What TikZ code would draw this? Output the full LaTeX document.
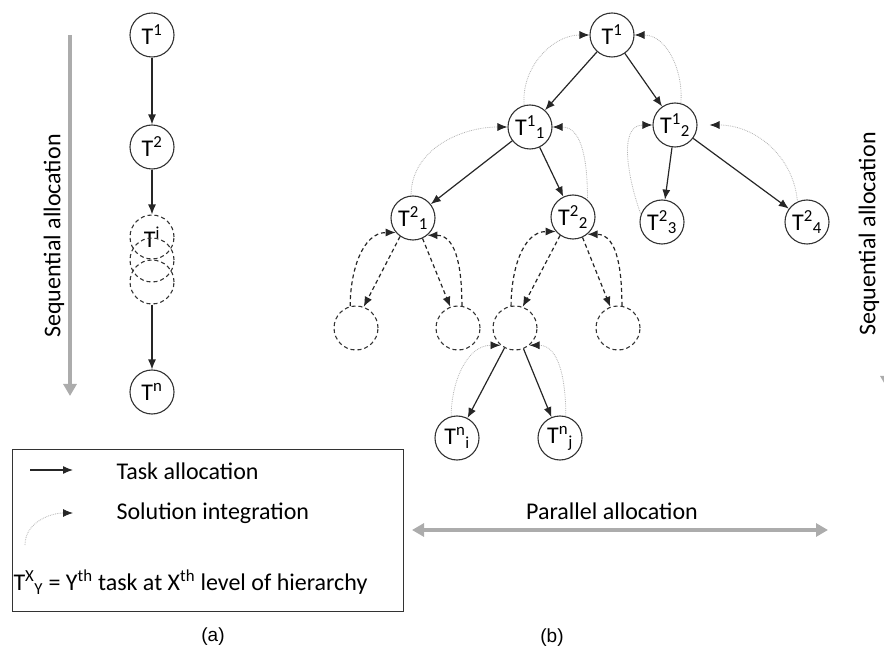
\documentclass[tikz,border=0pt]{standalone}
\usepackage{fontspec}
\setmainfont{Carlito}
\newfontfamily\capfont{Liberation Sans}
\usetikzlibrary{positioning, arrows.meta}

\begin{document}
\begin{tikzpicture}[x=1pt, y=-1pt,
	font=\fontsize{24}{28}\selectfont,
	task/.style={draw=black!80, circle, line width=1.1pt, minimum size=44pt, inner sep=0pt},
	ghost/.style={task, dash pattern=on 4pt off 3pt},
	alloc/.style={draw=black!85, line width=1.2pt, -{Latex[length=10pt,width=8pt]}},
	ghostalloc/.style={alloc, dash pattern=on 4pt off 3pt},
	integ/.style={draw=gray!60, line width=0.8pt, densely dotted, -{Latex[length=10pt,width=8pt,color=black!85]}},
	bigarrow/.style={draw=gray!65, line width=3.5pt, -{Triangle[length=12pt,width=13pt]}},
	]
	
	\useasboundingbox (0,0) rectangle (884,652);
	
	%Sequential chain
	\node (s1) at (152,35) [task] {T\textsuperscript{1}};
	\node (s2) at (152,147) [task] {T\textsuperscript{2}};
	\node (si) at (152,237) [ghost] {T\textsuperscript{i}};
	\node (si2) at (152,260) [ghost] {};
	\node (si3) at (152,282) [ghost] {};
	\node (sn) at (152,392) [task] {T\textsuperscript{n}};
	
	%Links
	\draw[alloc] (s1) -- (s2);
	\draw[alloc] (s2) -- (si);
	\draw[alloc] (si3) -- (sn);
	
	%Sequential arrow
	\node (seql) at (54,236) [rotate=90] {Sequential allocation};
	\coordinate (seqtop) at (70,35);
	\coordinate (seqbot) at (70,396);
	\draw[bigarrow] (seqtop) -- (seqbot);
	
	%Tree
	\node (t1) at (612,35) [task] {T\textsuperscript{1}};
	\node (t11) at (530,127) [task] {T\textsuperscript{1}\textsubscript{1}};
	\node (t12) at (675,125) [task] {T\textsuperscript{1}\textsubscript{2}};
	\node (t21) at (413,218) [task] {T\textsuperscript{2}\textsubscript{1}};
	\node (t22) at (573,217) [task] {T\textsuperscript{2}\textsubscript{2}};
	\node (t23) at (662,222) [task] {T\textsuperscript{2}\textsubscript{3}};
	\node (t24) at (807,222) [task] {T\textsuperscript{2}\textsubscript{4}};
	\node (g1) at (356,328) [ghost] {};
	\node (g2) at (458,328) [ghost] {};
	\node (gm) at (515,328) [ghost] {};
	\node (g4) at (618,328) [ghost] {};
	\node (tni) at (457,438) [task] {T\textsuperscript{n}\textsubscript{i}};
	\node (tnj) at (560,438) [task] {T\textsuperscript{n}\textsubscript{j}};
	
	%Links
	\draw[alloc] (t1) -- (t11);
	\draw[alloc] (t1) -- (t12);
	\draw[alloc] (t11) -- (t21);
	\draw[alloc] (t11) -- (t22);
	\draw[alloc] (t12) -- (t23);
	\draw[alloc] (t12) -- (t24);
	\draw[alloc] (gm) -- (tni);
	\draw[alloc] (gm) -- (tnj);
	
	\draw[ghostalloc] (t21.235) -- (g1.70);
	\draw[ghostalloc] (t21.295) -- (g2.110);
	\draw[ghostalloc] (t22.235) -- (gm.70);
	\draw[ghostalloc] (t22.295) -- (g4.110);
	
	%Integration
	\draw[integ] (t11.105) to[out=95, in=180] (t1.west);
	\draw[integ] (t12.75) to[out=85, in=0] (t1.east);
	\draw[integ] (t21.95) to[out=90, in=180] (t11.west);
	\draw[integ] (t22.50) to[out=90, in=0] (t11.east);
	\draw[integ] (t23.160) to[out=110, in=180] (t12.west);
	\draw[integ] (t24.115) to[out=95, in=0] ([xshift=12pt]t12.east);
	\draw[integ] (tni.105) to[out=90, in=180] (gm.230);
	\draw[integ] (tnj.75) to[out=90, in=0] (gm.310);
	
	\draw[ghostalloc] (g1.105) to[out=90, in=180] (t21.220);
	\draw[ghostalloc] (g2.80) to[out=90, in=0] (t21.310);
	\draw[ghostalloc] (gm.100) to[out=90, in=180] (t22.220);
	\draw[ghostalloc] (g4.80) to[out=90, in=0] (t22.310);
	
	%Parallel arrow
	\node (partext) at (612,511) {Parallel allocation};
	\coordinate (parl) at (412,530);
	\coordinate (parr) at (828,530);
	\draw[bigarrow, {Triangle[length=12pt,width=13pt]}-{Triangle[length=12pt,width=13pt]}] (parl) -- (parr);
	
	%Right edge
	\node (seqr) at (869,234) [rotate=90] {Sequential allocation};
	\coordinate (rtop) at (887,30);
	\coordinate (rbot) at (887,388);
	\draw[bigarrow] (rtop) -- (rbot);
	
	%Legend
	\node (legend) at (12,449) [draw=black!80, line width=1.2pt, anchor=north west, minimum width=391pt, minimum height=162pt] {};
	\coordinate (la1) at (30,470);
	\coordinate (la2) at (73,470);
	\draw[alloc] (la1) -- (la2);
	\node (ltask) at (113,471) [anchor=west] {Task allocation};
	\coordinate (li1) at (25,545);
	\coordinate (li2) at (73,513);
	\draw[integ] (li1) to[out=90, in=180] (li2);
	\node (lint) at (113,513) [anchor=west] {Solution integration};
	\node (lhier) at (10,582) [anchor=west] {T\textsuperscript{X}\textsubscript{Y} = Y\textsuperscript{th} task at X\textsuperscript{th} level of hierarchy};
	
	%Captions
	\node (capa) at (213,637) [font=\capfont\fontsize{19}{22}\selectfont] {(a)};
	\node (capb) at (552,638) [font=\capfont\fontsize{19}{22}\selectfont] {(b)};
	
\end{tikzpicture}
\end{document}
